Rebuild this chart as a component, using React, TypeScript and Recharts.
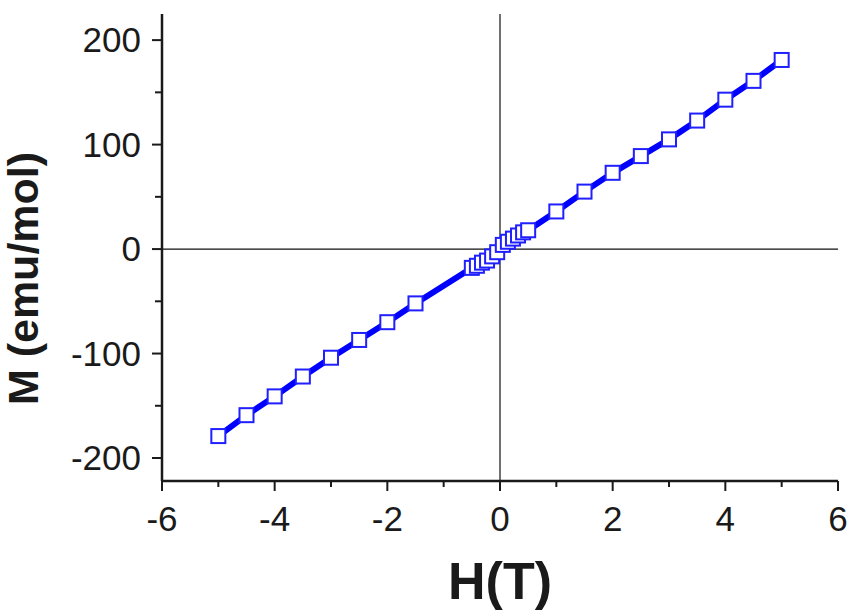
import { ComposedChart, Line, XAxis, YAxis, ReferenceLine, Label } from "recharts";

// magnetization vs field
const fieldT = [
  -5, -4.5, -4, -3.5, -3, -2.5, -2, -1.5,
  -0.5, -0.41, -0.32, -0.23, -0.14, -0.05,
  0.05, 0.14, 0.23, 0.32, 0.41, 0.5,
  1, 1.5, 2, 2.5, 3, 3.5, 4, 4.5, 5,
];
const magnetization = [
  -179, -159, -141, -122, -104, -87, -70, -52,
  -18, -16, -13, -11, -7, -3,
  4, 7, 10, 13, 16, 18,
  36, 55, 73, 89, 105, 123, 143, 161, 181,
];

const xTicks = [-6, -5, -4, -3, -2, -1, 0, 1, 2, 3, 4, 5, 6];
const yTicksLeft = [-200, -150, -100, -50, 0, 50, 100, 150, 200];
const yTicksRight = [-200, -175, -150, -125, -100, -75, -50, -25, 0, 25, 50, 75, 100, 125, 150, 175, 200];

const data = fieldT.map((h, i) => ({ h, m: magnetization[i] }));

const AXIS = "#1a1a1a";
const BLUE = "#0000ff";
const FONT = "'Liberation Sans', Arial, sans-serif";

function BottomTick({ x, y, payload }: any) {
  const major = payload.value % 2 === 0;
  return (
    <g>
      <line x1={x} y1={y} x2={x} y2={y + (major ? 10 : 6)} stroke={AXIS} strokeWidth={2} />
      {major && (
        <text x={x} y={y + 50} textAnchor="middle" fontSize={35} fill={AXIS} fontFamily={FONT}>
          {payload.value}
        </text>
      )}
    </g>
  );
}

function TopTick({ x, y, payload }: any) {
  const major = payload.value % 2 === 0;
  return <line x1={x} y1={y} x2={x} y2={y + (major ? 8 : 4)} stroke={AXIS} strokeWidth={2} />;
}

function LeftTick({ x, y, payload }: any) {
  const major = payload.value % 100 === 0;
  return (
    <g>
      <line x1={x} y1={y} x2={x - (major ? 10 : 7)} y2={y} stroke={AXIS} strokeWidth={2} />
      {major && (
        <text x={x - 21} y={y + 12} textAnchor="end" fontSize={35} fill={AXIS} fontFamily={FONT}>
          {payload.value}
        </text>
      )}
    </g>
  );
}

function RightTick({ x, y, payload }: any) {
  const major = payload.value % 50 === 0;
  return <line x1={x} y1={y} x2={x - (major ? 10 : 7)} y2={y} stroke={AXIS} strokeWidth={2} />;
}

function SquareDot({ cx, cy, index }: any) {
  return (
    <rect
      key={index}
      x={cx - 7}
      y={cy - 7}
      width={14}
      height={14}
      fill="#fff"
      stroke="#1f1fff"
      strokeWidth={2}
    />
  );
}

function XTitle({ viewBox }: any) {
  return (
    <text
      x={viewBox.x + viewBox.width / 2}
      y={599}
      textAnchor="middle"
      fontSize={52}
      fontWeight={700}
      fill={AXIS}
      fontFamily={FONT}
    >
      H(T)
    </text>
  );
}

function YTitle({ viewBox }: any) {
  const cy = viewBox.y + viewBox.height / 2 + 31;
  return (
    <text
      x={38}
      y={cy}
      transform={`rotate(-90 38 ${cy})`}
      textAnchor="middle"
      fontSize={43}
      fontWeight={700}
      fill={AXIS}
      fontFamily={FONT}
    >
      M (emu/mol)
    </text>
  );
}

export default function App() {
  return (
    <div style={{ position: "absolute", left: 0, top: 0, width: 850, height: 612, background: "#fff" }}>
      <ComposedChart
        width={850}
        height={612}
        data={data}
        margin={{ top: 14, right: 12, bottom: 0, left: 0 }}
      >
        <XAxis
          xAxisId="b"
          dataKey="h"
          type="number"
          domain={[-6, 6]}
          ticks={xTicks}
          interval={0}
          height={131}
          tickSize={0}
          tickMargin={0}
          tick={<BottomTick />}
          axisLine={{ stroke: AXIS, strokeWidth: 2.5 }}
        >
          <Label content={<XTitle />} />
        </XAxis>
        <XAxis
          xAxisId="t"
          orientation="top"
          type="number"
          domain={[-6, 6]}
          ticks={xTicks}
          interval={0}
          height={0}
          tickSize={0}
          tickMargin={0}
          tick={<TopTick />}
          axisLine={{ stroke: AXIS, strokeWidth: 2.5 }}
        />
        <YAxis
          yAxisId="l"
          type="number"
          domain={[-222, 225]}
          ticks={yTicksLeft}
          interval={0}
          width={162}
          tickSize={0}
          tickMargin={0}
          tick={<LeftTick />}
          axisLine={{ stroke: AXIS, strokeWidth: 2.5 }}
        >
          <Label content={<YTitle />} />
        </YAxis>
        <YAxis
          yAxisId="r"
          orientation="right"
          type="number"
          domain={[-222, 225]}
          ticks={yTicksRight}
          interval={0}
          width={0}
          tickSize={0}
          tickMargin={0}
          tick={<RightTick />}
          axisLine={{ stroke: AXIS, strokeWidth: 2.5 }}
        />
        <ReferenceLine xAxisId="b" yAxisId="l" x={0} stroke="#111" strokeWidth={1.2} />
        <ReferenceLine xAxisId="b" yAxisId="l" y={0} stroke="#111" strokeWidth={1.2} />
        <Line
          xAxisId="b"
          yAxisId="l"
          type="linear"
          dataKey="m"
          stroke={BLUE}
          strokeWidth={6}
          dot={<SquareDot />}
          activeDot={false}
          isAnimationActive={false}
        />
      </ComposedChart>
    </div>
  );
}
